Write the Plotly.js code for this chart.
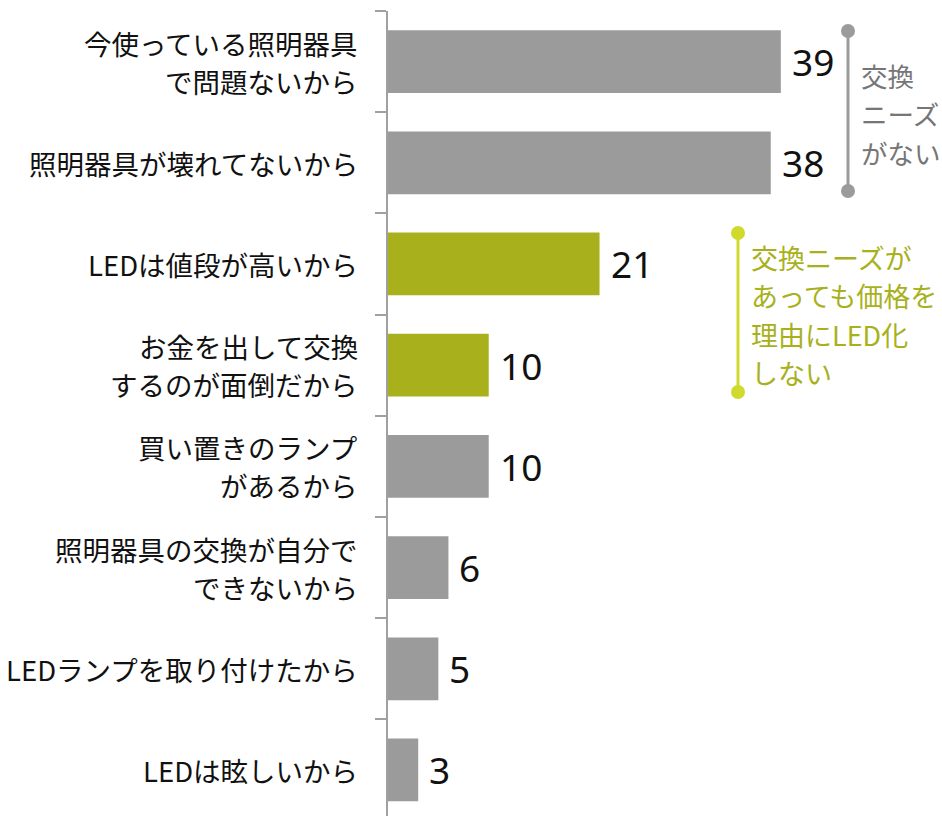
<!DOCTYPE html>
<html>
<head>
<meta charset="utf-8">
<script src="https://cdn.plot.ly/plotly-3.0.1.min.js"></script>
<style>html,body{margin:0;padding:0;background:#fff;}#chart{width:942px;height:816px;}</style>
</head>
<body>
<div id="chart"></div>
<script>
const categories = [
  "今使っている照明器具<br>で問題ないから",
  "照明器具が壊れてないから",
  "LEDは値段が高いから",
  "お金を出して交換<br>するのが面倒だから",
  "買い置きのランプ<br>があるから",
  "照明器具の交換が自分で<br>できないから",
  "LEDランプを取り付けたから",
  "LEDは眩しいから"
];
const values = [39, 38, 21, 10, 10, 6, 5, 3];
const groups = ["none", "none", "price", "price", "none", "none", "none", "none"];
const grayNoteLines = ["交換", "ニーズ", "がない"];
const greenNoteLines = ["交換ニーズが", "あっても価格を", "理由にLED化", "しない"];

const GRAY = "#9b9b9b";
const GREEN = "#a8b11c";
const GREEN_LINE = "#d0da2c";
const JP = "'Noto Sans CJK JP', 'Noto Sans', sans-serif";
const LINE_GAP = 38;

const W = 942, H = 816, ML = 388, MT = 11, MB = 0, MR = 0;
const xMax = 55;
const pw = W - ML - MR, ph = H - MT - MB;
const px2x = p => (p - ML) / pw * xMax;
const py2paper = p => (H - MB - p) / ph;

const trace = {
  type: "bar",
  orientation: "h",
  y: categories,
  x: values,
  width: 0.62,
  marker: { color: groups.map(g => g === "price" ? GREEN : GRAY) },
  hoverinfo: "none"
};

const annotations = [];
// category labels, one annotation per line for the reference's line spacing
categories.forEach(cat => {
  const lines = cat.split("<br>");
  lines.forEach((ln, j) => annotations.push({
    x: 0, xref: "paper", y: cat, yref: "y",
    text: ln, showarrow: false, xanchor: "right", yanchor: "middle",
    xshift: -28, yshift: ((lines.length - 1) / 2 - j) * LINE_GAP,
    font: { family: JP, size: 27.5, color: "#111" }
  }));
});
// value labels
values.forEach((v, i) => annotations.push({
  x: v, y: categories[i], xref: "x", yref: "y",
  text: String(v), showarrow: false, xanchor: "left", yanchor: "middle",
  xshift: 9, font: { family: "'Noto Sans', sans-serif", size: 37, color: "#111" }
}));

grayNoteLines.forEach((t, i) => annotations.push({
  x: px2x(859), y: py2paper(75 + i * 38.5), xref: "x", yref: "paper",
  text: t, showarrow: false, xanchor: "left", yanchor: "middle",
  font: { family: JP, size: 26.5, color: "#767676" }
}));
greenNoteLines.forEach((t, i) => annotations.push({
  x: px2x(749), y: py2paper(257 + i * 38.5), xref: "x", yref: "paper",
  text: t, showarrow: false, xanchor: "left", yanchor: "middle",
  font: { family: JP, size: 27, color: GREEN }
}));

function bracket(xp, y0p, y1p, color) {
  const x = px2x(xp);
  return [
    { type: "line", xref: "x", yref: "paper", x0: x, x1: x, y0: py2paper(y0p), y1: py2paper(y1p),
      line: { color: color, width: 3 } },
    { type: "circle", xref: "x", yref: "paper", xsizemode: "pixel", ysizemode: "pixel",
      xanchor: x, yanchor: py2paper(y0p), x0: -7, x1: 7, y0: -7, y1: 7,
      fillcolor: color, line: { width: 0 } },
    { type: "circle", xref: "x", yref: "paper", xsizemode: "pixel", ysizemode: "pixel",
      xanchor: x, yanchor: py2paper(y1p), x0: -7, x1: 7, y0: -7, y1: 7,
      fillcolor: color, line: { width: 0 } }
  ];
}
const shapes = [].concat(bracket(848, 31, 191, GRAY), bracket(738, 233, 392, GREEN_LINE));

const layout = {
  width: W, height: H,
  margin: { l: ML, r: MR, t: MT, b: MB, pad: 0 },
  paper_bgcolor: "#fff", plot_bgcolor: "#fff",
  showlegend: false,
  xaxis: { range: [0, xMax], visible: false, fixedrange: true },
  yaxis: {
    type: "category",
    range: [7.455, -0.5],
    tickson: "boundaries",
    ticks: "outside", ticklen: 11, tickwidth: 2, tickcolor: "#a0a0a0",
    showline: true, linecolor: "#a0a0a0", linewidth: 2,
    showgrid: false, zeroline: false,
    showticklabels: false
  },
  annotations: annotations,
  shapes: shapes,
  font: { family: JP }
};

Plotly.newPlot("chart", [trace], layout, { staticPlot: true, displayModeBar: false });
</script>
</body>
</html>
